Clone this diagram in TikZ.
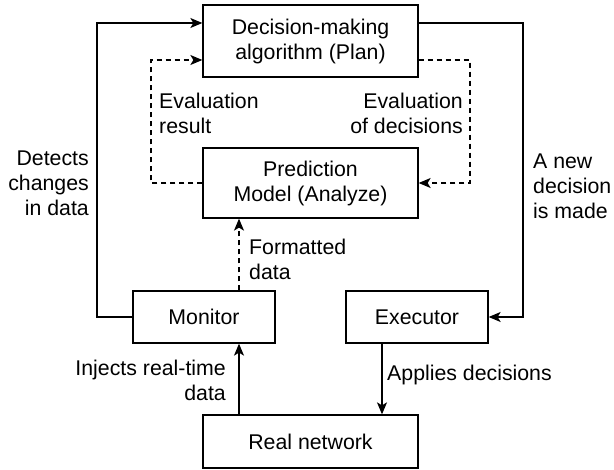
\documentclass[tikz,border=0pt]{standalone}
\usepackage{fontspec}
\setmainfont{Liberation Sans}
\usetikzlibrary{arrows.meta}
\newcommand{\mapeFont}{\fontsize{21.3}{25}\selectfont}
\begin{document}
\begin{tikzpicture}[x=1pt,y=-1pt,
  box/.style={draw, line width=1.3pt, align=center, inner sep=0pt, font=\mapeFont},
  lbl/.style={inner sep=0pt, font=\mapeFont},
  flow/.style={line width=1.3pt, -{Stealth[length=12pt,width=10pt,inset=3pt]}},
  dflow/.style={flow, dash pattern=on 5pt off 4pt}]
\useasboundingbox (0,0) rectangle (614,470);
\node[box, minimum width=215pt, minimum height=72pt] (plan) at (310.5,41) {Decision-making\\algorithm (Plan)};
\node[box, minimum width=215pt, minimum height=70pt] (analyze) at (310.5,183) {Prediction\\Model (Analyze)};
\node[box, minimum width=142pt, minimum height=52pt] (monitor) at (204,317) {Monitor};
\node[box, minimum width=142pt, minimum height=52pt] (executor) at (417,317) {Executor};
\node[box, minimum width=215pt, minimum height=53pt] (network) at (310.5,441.5) {Real network};
\coordinate (lbend) at (97,23);
\coordinate (rbend) at (523,23);
\coordinate (dlbend) at (151,60);
\coordinate (drbend) at (470,60);
\coordinate (fx) at (239,0);
\coordinate (ax) at (382,0);
\draw[flow] (monitor.west) -| (lbend) -- (plan.west |- lbend);
\draw[flow] (plan.east |- rbend) -- (rbend) |- (executor.east);
\draw[dflow] (analyze.west) -| (dlbend) -- (plan.west |- dlbend);
\draw[dflow] (plan.east |- drbend) -- (drbend) |- (analyze.east);
\draw[dflow] (monitor.north -| fx) -- (analyze.south -| fx);
\draw[flow] (network.north -| fx) -- (monitor.south -| fx);
\draw[flow] (executor.south -| ax) -- (network.north -| ax);
\node[lbl, align=right, anchor=east] (detects) at (89,183) {Detects\\changes\\in data};
\node[lbl, align=left, anchor=west] (newdec) at (533,186) {A new\\decision\\is made};
\node[lbl, align=left, anchor=west] (evalres) at (159,113) {Evaluation\\result};
\node[lbl, align=right, anchor=east] (evaldec) at (463,113) {Evaluation\\of decisions};
\node[lbl, align=left, anchor=west] (formatted) at (249,259) {Formatted\\data};
\node[lbl, align=right, anchor=east] (injects) at (226,380) {Injects real-time\\data};
\node[lbl, anchor=west] (applies) at (387,375) {Applies decisions};
\end{tikzpicture}
\end{document}
